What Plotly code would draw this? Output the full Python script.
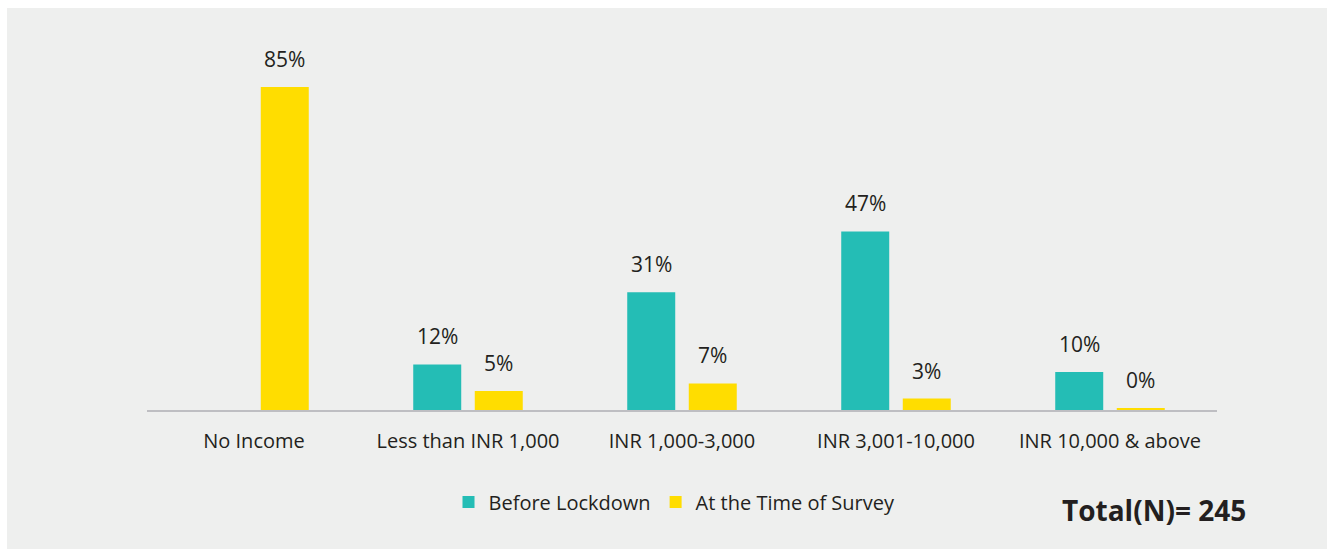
import plotly.graph_objects as go

categories = ["No Income", "Less than INR 1,000", "INR 1,000-3,000", "INR 3,001-10,000", "INR 10,000 & above"]
before_lockdown = [None, 12, 31, 47, 10]
at_survey = [85, 5, 7, 3, 0.4]
series_names = ["Before Lockdown", "At the Time of Survey"]
colors = ["#24BDB5", "#FFDD00"]
total_text = "Total(N)= 245"

FONT = "Open Sans"
TXT = "#231F20"

fig = go.Figure()
for name, vals, col in zip(series_names, [before_lockdown, at_survey], colors):
    fig.add_trace(go.Bar(x=categories, y=vals, name=name, marker=dict(color=col, line=dict(width=0)),
                         offsetgroup=name))

annotations = []
for vals, shift in [(before_lockdown, -30.75), (at_survey, 30.75)]:
    for c, v in zip(categories, vals):
        if v is None:
            continue
        annotations.append(dict(x=c, y=v, xref="x", yref="y", text=f"{round(v)}%", showarrow=False,
                                xshift=shift, yshift=12, yanchor="bottom",
                                font=dict(family=FONT, size=21, color=TXT)))
annotations.append(dict(x=0.853, y=-0.262, xref="paper", yref="paper", text=f"<b>{total_text}</b>",
                        showarrow=False, xanchor="left", yanchor="middle",
                        font=dict(family=FONT, size=28, color=TXT)))

fig.update_layout(
    width=1327, height=549,
    margin=dict(l=147, r=110, t=30, b=139),
    paper_bgcolor="white", plot_bgcolor="rgba(0,0,0,0)",
    barmode="group", bargap=0.425, bargroupgap=0.22,
    showlegend=True,
    legend=dict(orientation="h", x=0.493, xanchor="center", y=-0.242, yanchor="middle",
                font=dict(family=FONT, size=20, color=TXT), bgcolor="rgba(0,0,0,0)",
                itemwidth=30, tracegroupgap=0),
    annotations=annotations,
    shapes=[dict(type="rect", xref="paper", yref="paper", x0=-0.1308, x1=1.11, y0=-0.4, y1=1.0579,
                 fillcolor="#EEEFEE", line=dict(width=0), layer="below")],
    font=dict(family=FONT, color=TXT),
)
fig.update_xaxes(showline=True, linecolor="#BEBEC2", linewidth=2, showgrid=False, ticks="outside",
                 ticklen=12, tickcolor="rgba(0,0,0,0)", tickfont=dict(family=FONT, size=20, color=TXT))
fig.update_yaxes(range=[0, 100], visible=False, showgrid=False, zeroline=False)

fig.write_html("out.html", config={"displayModeBar": False},
               post_script="document.body.style.margin='0';document.body.style.overflow='hidden';")
